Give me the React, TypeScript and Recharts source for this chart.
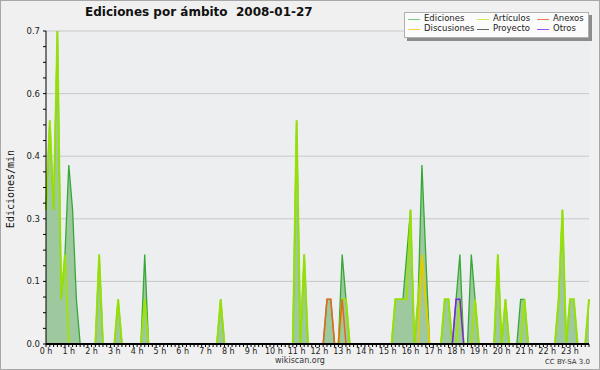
import React from 'react';
import { ComposedChart, Area, Line, XAxis, YAxis, CartesianGrid } from 'recharts';

// edits per minute, one value per 10-minute bin (6 per hour, 0 h .. 23 h 50)
const ediciones = [
    0.3, 0.5, 0.3, 0.7, 0.1, 0.2, // 0 h
    0.4, 0.3, 0.1, 0, 0, 0, // 1 h
    0, 0, 0.2, 0, 0, 0, // 2 h
    0, 0.1, 0, 0, 0, 0, // 3 h
    0, 0, 0.2, 0, 0, 0, // 4 h
    0, 0, 0, 0, 0, 0, // 5 h
    0, 0, 0, 0, 0, 0, // 6 h
    0, 0, 0, 0, 0.1, 0, // 7 h
    0, 0, 0, 0, 0, 0, // 8 h
    0, 0, 0, 0, 0, 0, // 9 h
    0, 0, 0, 0, 0, 0, // 10 h
    0.5, 0, 0.2, 0, 0, 0, // 11 h
    0, 0, 0.1, 0.1, 0, 0, // 12 h
    0.2, 0.1, 0, 0, 0, 0, // 13 h
    0, 0, 0, 0, 0, 0, // 14 h
    0, 0, 0.1, 0.1, 0.1, 0.2, // 15 h
    0.3, 0, 0.1, 0.4, 0.2, 0, // 16 h
    0, 0, 0, 0.1, 0.1, 0, // 17 h
    0.1, 0.2, 0, 0, 0.2, 0.1, // 18 h
    0, 0, 0, 0, 0, 0.2, // 19 h
    0, 0.1, 0, 0, 0, 0.1, // 20 h
    0.1, 0, 0, 0, 0, 0, // 21 h
    0, 0, 0, 0.1, 0.3, 0, // 22 h
    0.1, 0.1, 0, 0, 0, 0.1, // 23 h
];

const articulos = [
    0.3, 0.5, 0.3, 0.7, 0.1, 0.2,
    0, 0, 0, 0, 0, 0,
    0, 0, 0.2, 0, 0, 0,
    0, 0.1, 0, 0, 0, 0,
    0, 0, 0.1, 0, 0, 0,
    0, 0, 0, 0, 0, 0,
    0, 0, 0, 0, 0, 0,
    0, 0, 0, 0, 0.1, 0,
    0, 0, 0, 0, 0, 0,
    0, 0, 0, 0, 0, 0,
    0, 0, 0, 0, 0, 0,
    0.5, 0, 0.2, 0, 0, 0,
    0, 0, 0, 0, 0, 0,
    0.1, 0.1, 0, 0, 0, 0,
    0, 0, 0, 0, 0, 0,
    0, 0, 0.1, 0.1, 0.1, 0.1,
    0.3, 0, 0.1, 0.2, 0.1, 0,
    0, 0, 0, 0.1, 0.1, 0,
    0, 0.1, 0, 0, 0, 0.1,
    0, 0, 0, 0, 0, 0.2,
    0, 0.1, 0, 0, 0, 0,
    0.1, 0, 0, 0, 0, 0,
    0, 0, 0, 0.1, 0.3, 0,
    0.1, 0.1, 0, 0, 0, 0.1,
];

const anexos = [
    0, 0, 0, 0, 0, 0, 0, 0, 0, 0, 0, 0,
    0, 0, 0, 0, 0, 0, 0, 0, 0, 0, 0, 0,
    0, 0, 0, 0, 0, 0, 0, 0, 0, 0, 0, 0,
    0, 0, 0, 0, 0, 0, 0, 0, 0, 0, 0, 0,
    0, 0, 0, 0, 0, 0, 0, 0, 0, 0, 0, 0,
    0, 0, 0, 0, 0, 0, 0, 0, 0, 0, 0, 0,
    0, 0, 0.1, 0.1, 0, 0, 0.1, 0, 0, 0, 0, 0, // 12 h - 13 h
    0, 0, 0, 0, 0, 0, 0, 0, 0, 0, 0, 0,
    0, 0, 0, 0, 0, 0, 0, 0, 0, 0, 0, 0,
    0, 0, 0, 0, 0, 0, 0, 0, 0, 0, 0, 0,
    0, 0, 0, 0, 0, 0, 0, 0, 0, 0, 0, 0,
    0, 0, 0, 0, 0, 0, 0, 0, 0, 0, 0, 0,
];

const discusiones = [
    0, 0, 0, 0, 0, 0, 0, 0, 0, 0, 0, 0,
    0, 0, 0, 0, 0, 0, 0, 0, 0, 0, 0, 0,
    0, 0, 0, 0, 0, 0, 0, 0, 0, 0, 0, 0,
    0, 0, 0, 0, 0, 0, 0, 0, 0, 0, 0, 0,
    0, 0, 0, 0, 0, 0, 0, 0, 0, 0, 0, 0,
    0, 0, 0, 0, 0, 0, 0, 0, 0, 0, 0, 0,
    0, 0, 0, 0, 0, 0, 0, 0, 0, 0, 0, 0,
    0, 0, 0, 0, 0, 0, 0, 0, 0, 0, 0, 0,
    0, 0, 0, 0.2, 0.1, 0, 0, 0, 0, 0, 0, 0, // 16 h - 17 h
    0, 0, 0, 0, 0, 0, 0, 0, 0, 0, 0, 0,
    0, 0, 0, 0, 0, 0, 0, 0, 0, 0, 0, 0,
    0, 0, 0, 0, 0, 0, 0, 0, 0, 0, 0, 0,
];

const proyecto = [
    0, 0, 0, 0, 0, 0, 0, 0, 0, 0, 0, 0,
    0, 0, 0, 0, 0, 0, 0, 0, 0, 0, 0, 0,
    0, 0, 0, 0, 0, 0, 0, 0, 0, 0, 0, 0,
    0, 0, 0, 0, 0, 0, 0, 0, 0, 0, 0, 0,
    0, 0, 0, 0, 0, 0, 0, 0, 0, 0, 0, 0,
    0, 0, 0, 0, 0, 0, 0, 0, 0, 0, 0, 0,
    0, 0, 0, 0, 0, 0, 0, 0, 0, 0, 0, 0,
    0, 0, 0, 0, 0, 0, 0, 0, 0, 0, 0, 0,
    0, 0, 0, 0, 0, 0, 0, 0, 0, 0, 0, 0,
    0, 0, 0, 0, 0, 0, 0, 0, 0, 0, 0, 0,
    0, 0, 0, 0, 0, 0, 0, 0, 0, 0, 0, 0,
    0, 0, 0, 0, 0, 0, 0, 0, 0, 0, 0, 0,
];

const otros = [
    0, 0, 0, 0, 0, 0, 0, 0, 0, 0, 0, 0,
    0, 0, 0, 0, 0, 0, 0, 0, 0, 0, 0, 0,
    0, 0, 0, 0, 0, 0, 0, 0, 0, 0, 0, 0,
    0, 0, 0, 0, 0, 0, 0, 0, 0, 0, 0, 0,
    0, 0, 0, 0, 0, 0, 0, 0, 0, 0, 0, 0,
    0, 0, 0, 0, 0, 0, 0, 0, 0, 0, 0, 0,
    0, 0, 0, 0, 0, 0, 0, 0, 0, 0, 0, 0,
    0, 0, 0, 0, 0, 0, 0, 0, 0, 0, 0, 0,
    0, 0, 0, 0, 0, 0, 0, 0, 0, 0, 0, 0,
    0.1, 0.1, 0, 0, 0, 0, 0, 0, 0, 0, 0, 0, // 18 h - 19 h
    0, 0, 0, 0, 0, 0, 0, 0, 0, 0, 0, 0,
    0, 0, 0, 0, 0, 0, 0, 0, 0, 0, 0, 0,
];

const hourLabels = [
    '0 h', '1 h', '2 h', '3 h', '4 h', '5 h', '6 h', '7 h', '8 h', '9 h', '10 h', '11 h',
    '12 h', '13 h', '14 h', '15 h', '16 h', '17 h', '18 h', '19 h', '20 h', '21 h', '22 h', '23 h',
];

const yTicks = [
    0, 0.035, 0.07, 0.105, 0.14, 0.175, 0.21, 0.245, 0.28, 0.315, 0.35,
    0.385, 0.42, 0.455, 0.49, 0.525, 0.56, 0.595, 0.63, 0.665, 0.7,
];
const yGrid = [0.14, 0.28, 0.42, 0.56, 0.7];

const legendItems = [
    { name: 'Ediciones', color: '#7ccf7c' },
    { name: 'Artículos', color: '#c8ee50' },
    { name: 'Anexos', color: '#f07a48' },
    { name: 'Discusiones', color: '#ffd040' },
    { name: 'Proyecto', color: '#666666' },
    { name: 'Otros', color: '#9a50ee' },
];

const xTicks = ediciones.map((_, i) => i);

const chartData = xTicks.map(i => ({
    bin: i,
    ediciones: ediciones[i],
    articulos: articulos[i],
    anexos: anexos[i],
    discusiones: discusiones[i],
    proyecto: proyecto[i],
    otros: otros[i],
}));

const font = 'DejaVu Sans, sans-serif';

export default function App() {
    const legendCols = [408, 477, 537];
    return (
        <div style={{ position: 'absolute', left: 0, top: 0, width: 600, height: 370, background: '#f0f0f0', fontFamily: font }}>
            <ComposedChart width={600} height={370} data={chartData} margin={{ top: 31, right: 11, bottom: 6, left: 10 }}>
                <CartesianGrid vertical={false} horizontalValues={yGrid} stroke="#c8c8c8" fill="#edeef0" />
                <Area type="linear" dataKey="ediciones" stroke="#36a836" strokeWidth={1.3} fill="#9ec99e" fillOpacity={1} dot={false} isAnimationActive={false} />
                <Line type="linear" dataKey="articulos" stroke="#9fe400" strokeWidth={2} strokeOpacity={0.9} dot={false} isAnimationActive={false} />
                <Line type="linear" dataKey="anexos" stroke="#e8661c" strokeWidth={1.5} dot={false} isAnimationActive={false} />
                <Line type="linear" dataKey="discusiones" stroke="#f5c400" strokeWidth={1.5} dot={false} isAnimationActive={false} />
                <Line type="linear" dataKey="proyecto" stroke="#555555" strokeWidth={1} dot={false} isAnimationActive={false} />
                <Line type="linear" dataKey="otros" stroke="#7a22e0" strokeWidth={1.5} dot={false} isAnimationActive={false} />
                <XAxis
                    type="number"
                    dataKey="bin"
                    domain={[0, 143]}
                    ticks={xTicks}
                    interval={0}
                    height={20}
                    tickSize={3}
                    tickMargin={1}
                    axisLine={{ stroke: '#000', strokeWidth: 2 }}
                    tickLine={{ stroke: '#000' }}
                    tick={{ fontSize: 8, fontFamily: font, fill: '#222' }}
                    tickFormatter={(v: number) => (v % 6 === 0 ? hourLabels[v / 6] : '')}
                />
                <YAxis
                    domain={[0, 0.7]}
                    ticks={yTicks}
                    interval={0}
                    width={36}
                    tickSize={3}
                    tickMargin={3}
                    stroke="#000"
                    tick={{ fontSize: 8.5, fontFamily: font, fill: '#222' }}
                    tickFormatter={(v: number, i: number) => (i % 4 === 0 ? v.toFixed(1) : '')}
                />
            </ComposedChart>

            {/* title */}
            <div style={{ position: 'absolute', left: 85, top: 5, fontSize: 12, fontWeight: 'bold', whiteSpace: 'pre', color: '#111' }}>
                {'Ediciones por ámbito  2008-01-27'}
            </div>

            {/* y axis title */}
            <div style={{ position: 'absolute', left: 10, top: 189, transform: 'translate(-50%, -50%) rotate(-90deg)', fontFamily: 'DejaVu Sans Mono, monospace', fontSize: 10, whiteSpace: 'nowrap', color: '#111' }}>
                Ediciones/min
            </div>

            {/* legend */}
            <div style={{ position: 'absolute', left: 404, top: 12, width: 185, height: 26, background: '#fbfbfb', border: '1px solid #b0b0b0', boxSizing: 'border-box', boxShadow: '3px 3px 0 #8c8c8c' }} />
            {legendItems.map((item, i) => {
                const col = i % 3;
                const row = Math.floor(i / 3);
                const x = legendCols[col];
                const y = row === 0 ? 19 : 29;
                return (
                    <React.Fragment key={item.name}>
                        <div style={{ position: 'absolute', left: x, top: y, width: 12, height: 1, background: item.color }} />
                        <div style={{ position: 'absolute', left: x + 16, top: y - 6, fontSize: 8.5, lineHeight: '11px', color: '#222', whiteSpace: 'nowrap' }}>
                            {item.name}
                        </div>
                    </React.Fragment>
                );
            })}

            {/* footer */}
            <div style={{ position: 'absolute', left: 0, width: 600, top: 356, textAlign: 'center', fontSize: 8, color: '#333' }}>wikiscan.org</div>
            <div style={{ position: 'absolute', right: 10, top: 358, fontSize: 7, color: '#333' }}>CC BY-SA 3.0</div>
            <div style={{ position: 'absolute', left: 0, top: 0, width: 600, height: 370, border: '1px solid #a8a8a8', boxSizing: 'border-box', pointerEvents: 'none' }} />
        </div>
    );
}
